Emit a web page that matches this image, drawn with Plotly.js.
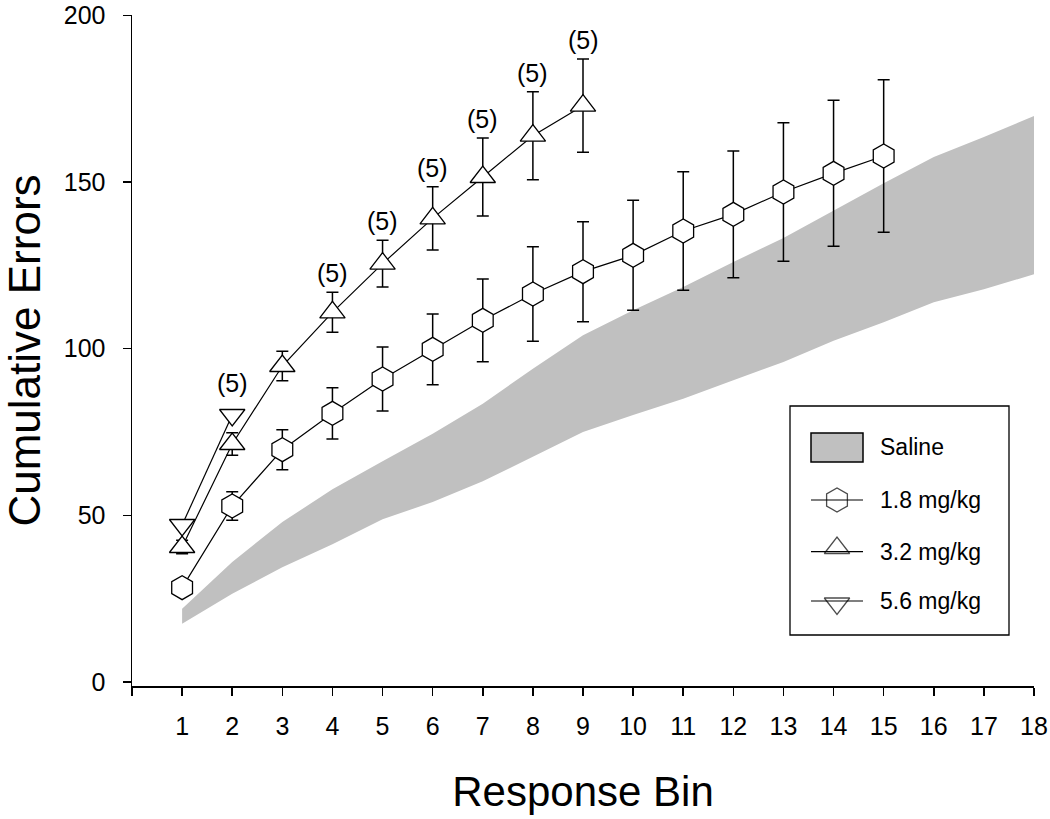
<!DOCTYPE html>
<html>
<head>
<meta charset="utf-8">
<script src="https://cdn.plot.ly/plotly-3.0.1.min.js"></script>
<style>html,body{margin:0;padding:0;background:#fff;}#chart{width:1050px;height:819px;}</style>
</head>
<body>
<div id="chart"></div>
<script>
// ---------------- data ----------------
const salineBins  = [1,2,3,4,5,6,7,8,9,10,11,12,13,14,15,16,17,18];
const salineUpper = [22,36,48,57.8,66.2,74.5,83.5,94,104,111.5,118.5,126,133.2,141.5,149.6,157.5,163.5,169.8];
const salineLower = [17.5,26.5,34.4,41.3,48.8,54,60.2,67.7,75,80.1,85,90.5,96,102.4,107.9,113.9,117.8,122.3];

const bins18 = [1,2,3,4,5,6,7,8,9,10,11,12,13,14,15];
const mean18 = [28.3,52.8,69.7,80.6,90.9,99.8,108.5,116.4,123.1,128,135.3,140.3,147,152.6,157.8];
const sem18  = [1.5,4.3,6,7.7,9.6,10.6,12.4,14.2,15,16.5,17.8,19,20.8,21.9,22.9];

const bins32 = [1,2,3,4,5,6,7,8,9];
const mean32 = [40.5,71.4,94.8,110.9,125.5,139.1,151.5,163.9,172.9];
const sem32  = [2,3.4,4.4,6,7,9.5,11.7,13.2,14];

const bins56 = [1,2];
const mean56 = [47.1,80.1];

const nLabelBins32 = [4,5,6,7,8,9];
const nLabelBins56 = [2];
const nLabelText = "(5)";

const seriesNames = ["Saline","1.8 mg/kg","3.2 mg/kg","5.6 mg/kg"];
const xTickVals = [0,1,2,3,4,5,6,7,8,9,10,11,12,13,14,15,16,17,18];
const xTickText = ["","1","2","3","4","5","6","7","8","9","10","11","12","13","14","15","16","17","18"];
const yTickVals = [0,50,100,150,200];

// ---------------- styling ----------------
const FONT = "Liberation Sans, Arial, Helvetica, sans-serif";
const GRAY = "#c0c0c0";
const MK_LINE = {color:"#000", width:1.3};
const PLOT_TOP = 15, PLOT_BOTTOM = 686, PLOT_LEFT = 132, PLOT_RIGHT = 1034;

const traces = [
  {x: salineBins, y: salineLower, type:"scatter", mode:"lines", line:{width:0, color:GRAY},
   showlegend:false, hoverinfo:"skip"},
  {x: salineBins, y: salineUpper, type:"scatter", mode:"lines", line:{width:0, color:GRAY},
   fill:"tonexty", fillcolor:GRAY, name:seriesNames[0], showlegend:false},
  {x: bins18, y: mean18, type:"scatter", mode:"lines+markers", name:seriesNames[1], showlegend:false,
   line:{color:"#000", width:1.2},
   marker:{symbol:"hexagon", size:24, color:"#fff", line:MK_LINE},
   error_y:{type:"data", array:sem18, visible:true, color:"#000", thickness:1.5, width:6}},
  {x: bins32, y: mean32, type:"scatter", mode:"lines+markers", name:seriesNames[2], showlegend:false,
   line:{color:"#000", width:1.2},
   marker:{symbol:"triangle-up", size:22, color:"#fff", line:MK_LINE},
   error_y:{type:"data", array:sem32, visible:true, color:"#000", thickness:1.5, width:6}},
  {x: bins56, y: mean56, type:"scatter", mode:"lines+markers", name:seriesNames[3], showlegend:false,
   line:{color:"#000", width:1.2},
   marker:{symbol:"triangle-down", size:22, color:"#fff", line:MK_LINE}}
];

// ---------------- annotations "(5)" ----------------
const annotations = [];
nLabelBins32.forEach(b => {
  const i = bins32.indexOf(b);
  annotations.push({x:b, y:mean32[i]+sem32[i], xref:"x", yref:"y", text:nLabelText, showarrow:false,
    yanchor:"bottom", yshift:3, font:{family:FONT, size:25, color:"#000"}});
});
nLabelBins56.forEach(b => {
  const i = bins56.indexOf(b);
  annotations.push({x:b, y:mean56[i], xref:"x", yref:"y", text:nLabelText, showarrow:false,
    yanchor:"bottom", yshift:16, font:{family:FONT, size:25, color:"#000"}});
});

// ---------------- manual legend (pixel coordinates on an overlay axis) ----------------
const LEG = {x0:790, x1:1009, y0:406, y1:635, symX0:811, symX1:863, textX:878,
             rows:[447, 500, 551.7, 601], markerY:[500, 548, 603.5]};
const shapes = [
  {type:"rect", xref:"x2", yref:"y2", x0:LEG.x0, x1:LEG.x1, y0:LEG.y0, y1:LEG.y1,
   line:{color:"#000", width:1.3}, fillcolor:"rgba(0,0,0,0)"},
  {type:"rect", xref:"x2", yref:"y2", x0:LEG.symX0, x1:LEG.symX1, y0:433, y1:462,
   line:{color:"#000", width:1.5}, fillcolor:GRAY}
];
for (let k=1;k<4;k++){
  shapes.push({type:"line", xref:"x2", yref:"y2", x0:LEG.symX0, x1:LEG.symX1, y0:LEG.rows[k], y1:LEG.rows[k],
    line:{color:"#000", width:1.2}});
}
for (let k=0;k<4;k++){
  annotations.push({xref:"x2", yref:"y2", x:LEG.textX, y:LEG.rows[k], xanchor:"left", yanchor:"middle",
    text:seriesNames[k], showarrow:false, font:{family:FONT, size:23, color:"#000"}});
}
const legSymX = (LEG.symX0+LEG.symX1)/2;
traces.push({x:[legSymX,legSymX,legSymX], y:LEG.markerY, xaxis:"x2", yaxis:"y2", type:"scatter",
  mode:"markers", showlegend:false, hoverinfo:"skip",
  marker:{symbol:["hexagon","triangle-up","triangle-down"], size:[24,22,22], color:"#fff", line:MK_LINE}});

const layout = {
  width:1050, height:819,
  margin:{l:PLOT_LEFT, r:1050-PLOT_RIGHT, t:PLOT_TOP, b:819-PLOT_BOTTOM},
  paper_bgcolor:"#fff", plot_bgcolor:"#fff",
  showlegend:false,
  font:{family:FONT, color:"#000"},
  xaxis:{range:[0,18], tickvals:xTickVals, ticktext:xTickText, ticks:"outside", ticklen:8, tickwidth:1.5,
    tickcolor:"#000", showline:true, linecolor:"#000", linewidth:1.5, showgrid:false, zeroline:false,
    tickfont:{family:FONT, size:25, color:"#000"}, ticklabelstandoff:9, ticklabeloverflow:"allow",
    title:{text:"Response Bin", font:{family:FONT, size:42, color:"#000"}, standoff:38}},
  yaxis:{range:[-1.2,200.1], tickvals:yTickVals, ticks:"outside", ticklen:8, tickwidth:1.5,
    tickcolor:"#000", showline:true, linecolor:"#000", linewidth:1.5, showgrid:false, zeroline:false,
    tickfont:{family:FONT, size:25, color:"#000"}, ticklabelstandoff:12, ticklabeloverflow:"allow",
    title:{text:"Cumulative Errors", font:{family:FONT, size:44, color:"#000"}, standoff:20}},
  xaxis2:{overlaying:"x", range:[PLOT_LEFT,PLOT_RIGHT], visible:false, fixedrange:true},
  yaxis2:{overlaying:"y", range:[PLOT_BOTTOM,PLOT_TOP], visible:false, fixedrange:true},
  shapes:shapes,
  annotations:annotations
};

Plotly.newPlot("chart", traces, layout, {staticPlot:true, displayModeBar:false});
</script>
</body>
</html>
